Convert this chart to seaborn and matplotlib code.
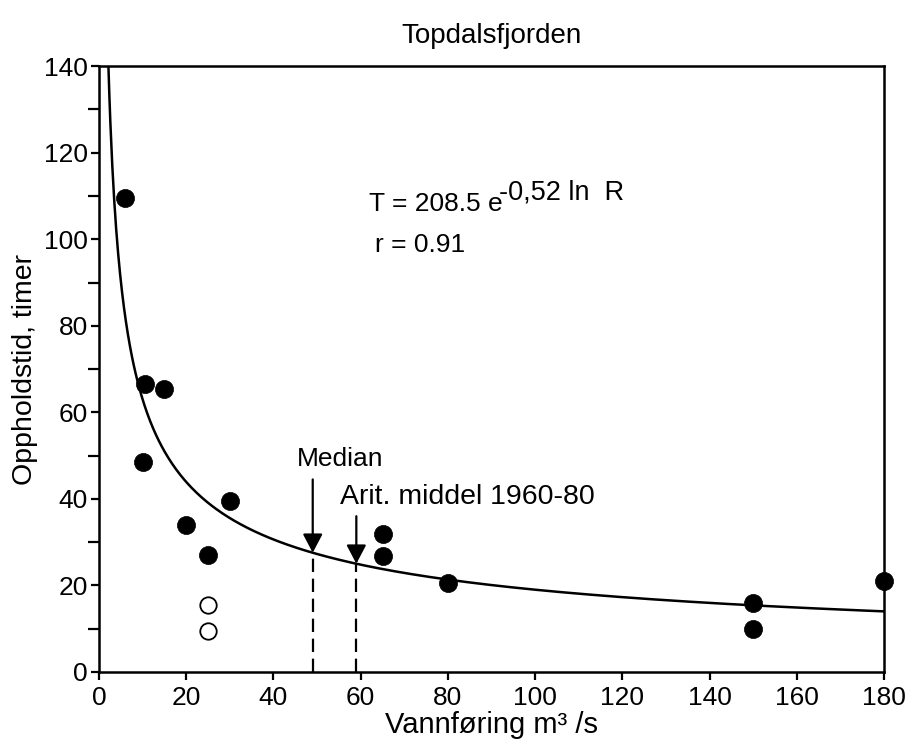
import numpy as np
import pandas as pd
import matplotlib
matplotlib.use("Agg")
import matplotlib.pyplot as plt
import seaborn as sns

# ---- data ----
x_filled = [6, 10.5, 15, 10, 30, 20, 25, 65, 65, 80, 150, 150, 180]
y_filled = [109.5, 66.5, 65.5, 48.5, 39.5, 34, 27, 32, 26.8, 20.5, 16, 10, 21]
x_open = [25, 25]
y_open = [15.5, 9.5]

# fitted relation shown on chart: T = 208.5 * e^(-0.52 ln R)
fit_a = 208.5
fit_b = 0.52
fit_xmin = 2.15
fit_xmax = 180

median_x = 49
arit_x = 59

x_ticks = [0, 20, 40, 60, 80, 100, 120, 140, 160, 180]
y_ticks = [0, 20, 40, 60, 80, 100, 120, 140]

sns.set_theme(style="ticks")
plt.rcParams["font.family"] = ["Liberation Sans", "DejaVu Sans"]
for k in ["text.color", "axes.labelcolor", "xtick.color", "ytick.color", "axes.edgecolor"]:
    plt.rcParams[k] = "black"

fig = plt.figure(figsize=(9.12, 7.44), dpi=100)
ax = fig.add_axes([0.1086, 0.0968, 0.9693 - 0.1086, 0.911 - 0.0968])

# fit curve
R = np.linspace(fit_xmin, fit_xmax, 800)
T = fit_a * np.exp(-fit_b * np.log(R))
curve = pd.DataFrame({"R": R, "T": T})
sns.lineplot(data=curve, x="R", y="T", ax=ax, color="black", linewidth=1.8, sort=False)

df_f = pd.DataFrame({"x": x_filled, "y": y_filled})
df_o = pd.DataFrame({"x": x_open, "y": y_open})
sns.scatterplot(data=df_f, x="x", y="y", ax=ax, s=170, color="black",
                edgecolor="black", linewidth=0.5, zorder=5, clip_on=False)
sns.scatterplot(data=df_o, x="x", y="y", ax=ax, s=140, facecolor="white",
                edgecolor="black", linewidth=1.3, zorder=5)

# median / arithmetic mean markers
med_y = fit_a * median_x ** (-fit_b)
ari_y = fit_a * arit_x ** (-fit_b)
ax.plot([median_x, median_x], [0, med_y], color="black", lw=1.6, ls=(0, (6, 3)))
ax.plot([arit_x, arit_x], [0, ari_y], color="black", lw=1.6, ls=(0, (6, 3)))
arrow_kw = dict(arrowstyle="-|>,head_length=0.95,head_width=0.5", color="black", lw=1.6,
                shrinkA=0, shrinkB=0)
ax.annotate("", xy=(median_x, med_y), xytext=(median_x, 44.5), arrowprops=arrow_kw)
ax.annotate("", xy=(arit_x, ari_y), xytext=(arit_x, 36), arrowprops=arrow_kw)
ax.text(45.3, 47.5, "Median", fontsize=19, ha="left", va="baseline")
ax.text(55.3, 38.8, "Arit. middel 1960-80", fontsize=20.5, ha="left", va="baseline")

ax.text(61.8, 106.5, "T = 208.5 e", fontsize=19, ha="left", va="baseline")
ax.text(91.8, 109.3, "-0,52 ln  R", fontsize=19.5, ha="left", va="baseline")
ax.text(63.3, 97, "r = 0.91", fontsize=19, ha="left", va="baseline")

ax.set_xlim(0, 180)
ax.set_ylim(0, 140)
ax.set_xticks(x_ticks)
ax.set_yticks(y_ticks)
ax.set_yticks([10, 30, 50, 70, 90, 110, 130], minor=True)
ax.tick_params(axis="both", which="major", labelsize=19, length=6, width=1.6,
               direction="out", color="black", pad=2)
ax.tick_params(axis="y", which="minor", length=8, width=1.6, direction="out")
ax.tick_params(axis="x", which="major", pad=4)
for sp in ax.spines.values():
    sp.set_linewidth(1.8)
    sp.set_color("black")
    sp.set_visible(True)

ax.set_xlabel("Vannføring m³ /s", fontsize=21, labelpad=1)
ax.set_ylabel("Oppholdstid, timer", fontsize=20.5, labelpad=4)
ax.set_title("Topdalsfjorden", fontsize=20, pad=17)

fig.savefig("out.png", dpi=100, facecolor="white")
